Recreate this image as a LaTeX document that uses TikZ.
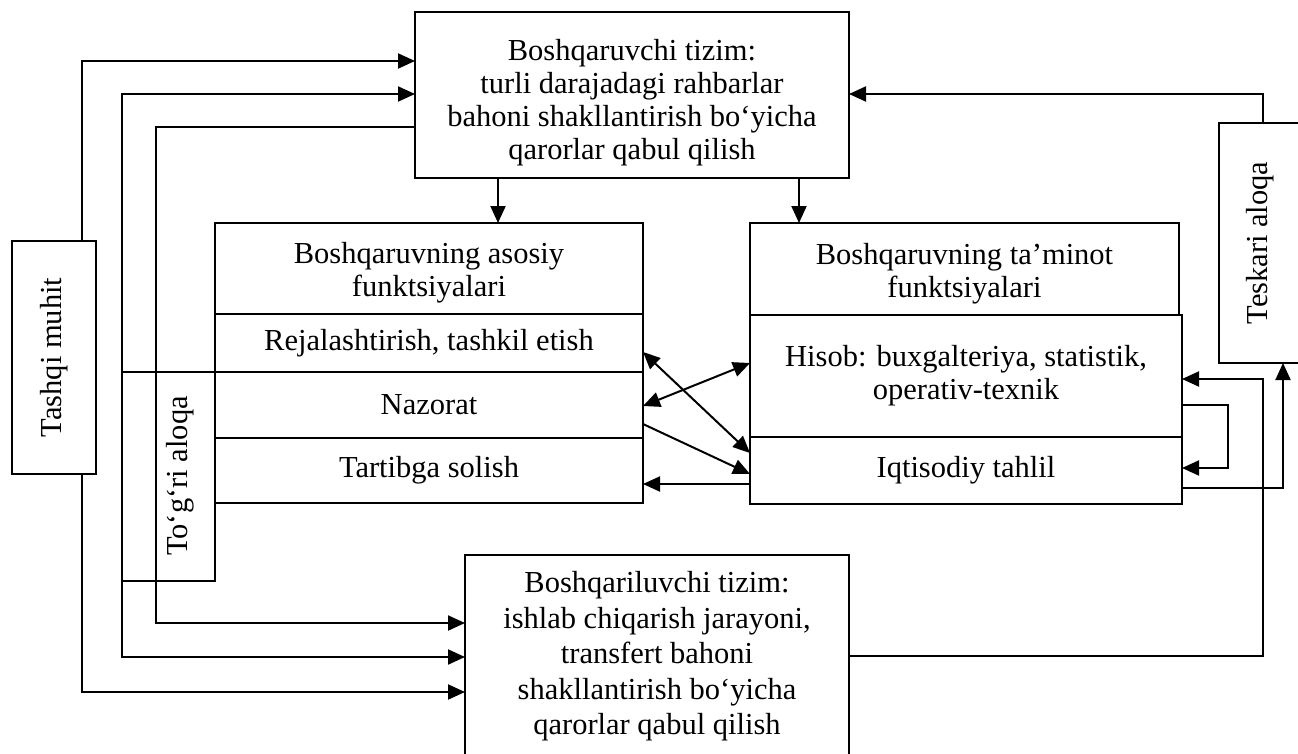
\documentclass[tikz,border=0pt]{standalone}
\usepackage{fontspec}
\setmainfont{Liberation Serif}
\usetikzlibrary{arrows.meta}
% centred lines, drawn lower by a given amount without changing the box size
\newcommand{\lowlines}[2]{\raisebox{-#1}[\height][\depth]{\begin{tabular}{@{}c@{}}#2\end{tabular}}}
\begin{document}
\begin{tikzpicture}[x=1pt,y=-1pt,
  box/.style={draw, line width=2pt, inner sep=0pt, outer sep=0pt, align=center,
    anchor=north west, font=\fontsize{30.5}{33}\selectfont},
  txt/.style={inner sep=0pt, align=center, font=\fontsize{30.5}{33}\selectfont},
  arr/.style={line width=2pt, -{Triangle[length=17pt,width=15pt]}},
  dbl/.style={line width=2pt, {Triangle[length=17pt,width=15pt]}-{Triangle[length=17pt,width=15pt]}}]
\useasboundingbox (0,0) rectangle (1298,753);

% control system
\node[box, minimum width=434pt, minimum height=166pt] (ctrl) at (415,12)
  {\lowlines{8pt}{Boshqaruvchi tizim:\\turli darajadagi rahbarlar\\bahoni shakllantirish bo‘yicha\\qarorlar qabul qilish}};

% main functions
\node[box, minimum width=428pt, minimum height=91pt] (asH) at (215,223)
  {\lowlines{5pt}{Boshqaruvning asosiy\\funktsiyalari}};
\node[box, minimum width=428pt, minimum height=58pt] (asR) at (215,314)
  {Rejalashtirish, tashkil etish};
\node[box, minimum width=428pt, minimum height=66pt] (asN) at (215,372) {Nazorat};
\node[box, minimum width=428pt, minimum height=65pt] (asT) at (215,438) {Tartibga solish};

% support functions
\node[box, minimum width=429pt, minimum height=92pt] (tmH) at (750,223)
  {\lowlines{5pt}{Boshqaruvning ta’minot\\funktsiyalari}};
\node[box, minimum width=432pt, minimum height=122pt] (tmHis) at (750,315)
  {Hisob: buxgalteriya, statistik,\\operativ-texnik};
\node[box, minimum width=432pt, minimum height=67pt] (tmIq) at (750,437)
  {Iqtisodiy tahlil};

% environment and links
\node[box, minimum width=84pt, minimum height=233pt] (tashqi) at (12,241)
  {\rotatebox{90}{Tashqi muhit}};
\node[box, minimum width=93pt, minimum height=209pt] (togri) at (122,372) {};
\node[txt, rotate=90] (togriTxt) at (180,476) {To‘g‘ri aloqa};
\node[box, minimum width=82pt, minimum height=240pt] (teskari) at (1219,123)
  {\rotatebox{90}{Teskari aloqa}};

% controlled system
\node[box, minimum width=384pt, minimum height=203pt,
  font=\fontsize{30.5}{35.5}\selectfont] (obj) at (465,555)
  {Boshqariluvchi tizim:\\ishlab chiqarish jarayoni,\\transfert bahoni\\shakllantirish bo‘yicha\\qarorlar qabul qilish};

% bend points
\coordinate (a1) at (82,61);
\coordinate (a2) at (82,692);
\coordinate (b1) at (122,94);
\coordinate (b2) at (122,657);
\coordinate (c1) at (156,127);
\coordinate (c2) at (156,623);
\coordinate (d1) at (498,0);
\coordinate (d2) at (799,0);
\coordinate (m1) at (0,352);
\coordinate (m2) at (0,453);
\coordinate (m3) at (0,406);
\coordinate (m4) at (0,363);
\coordinate (m5) at (0,424);
\coordinate (m6) at (0,474);
\coordinate (m7) at (0,484);
\coordinate (e1) at (1263,656);
\coordinate (e2) at (0,379);
\coordinate (f1) at (0,405);
\coordinate (f2) at (1228,468);
\coordinate (g1) at (1283,488);
\coordinate (h1) at (1263,94);

% environment
\draw[arr] (tashqi.north -| a1) |- (ctrl.west |- a1);
\draw[arr] (tashqi.south -| a1) |- (obj.west |- a2);
% direct link
\draw[arr] (togri.north west) -- (b1) -- (ctrl.west |- b1);
\draw[arr] (togri.south west) -- (b2) -- (obj.west |- b2);
\draw[arr] (ctrl.west |- c1) -- (c1) -- (c2) -- (obj.west |- c2);
% control to functions
\draw[arr] (ctrl.south -| d1) -- (asH.north -| d1);
\draw[arr] (ctrl.south -| d2) -- (tmH.north -| d2);
% between functions
\draw[dbl] (asR.east |- m1) -- (tmIq.west |- m2);
\draw[dbl] (asN.east |- m3) -- (tmHis.west |- m4);
\draw[arr] (asN.east |- m5) -- (tmIq.west |- m6);
\draw[arr] (tmIq.west |- m7) -- (asT.east |- m7);
% feedback
\draw[arr] (obj.east |- e1) -- (e1) -- (e1 |- e2) -- (tmHis.east |- e2);
\draw[arr] (tmHis.east |- f1) -| (f2) -- (tmIq.east |- f2);
\draw[arr] (tmIq.east |- g1) -- (g1) -- (teskari.south -| g1);
\draw[arr] (teskari.north -| h1) -- (h1) -- (ctrl.east |- h1);
\end{tikzpicture}
\end{document}
